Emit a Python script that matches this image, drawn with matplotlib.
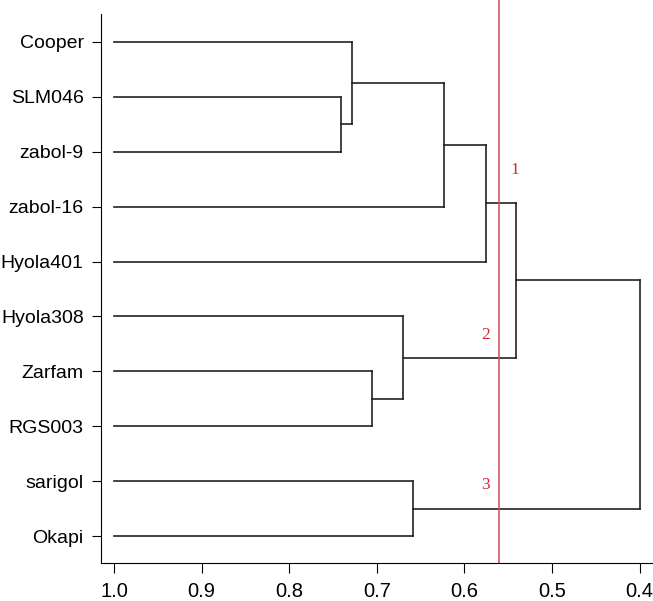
import matplotlib.pyplot as plt

# Leaf labels, top to bottom
leaves = ['Cooper', 'SLM046', 'zabol-9', 'zabol-16', 'Hyola401',
          'Hyola308', 'Zarfam', 'RGS003', 'sarigol', 'Okapi']
# Merges: (child a, child b, similarity); leaves are 0..9, merged nodes 10+
merges = [
    (1, 2, 0.741),
    (0, 10, 0.728),
    (11, 3, 0.623),
    (12, 4, 0.575),
    (6, 7, 0.705),
    (5, 14, 0.670),
    (13, 15, 0.541),
    (8, 9, 0.659),
    (16, 17, 0.400),
]
leaf_height = 1.0
cut = 0.56
group_labels = ['1', '2', '3']
group_x = [0.542, 0.576, 0.576]
group_y = [2.33, 5.34, 8.07]
xticks = [1.0, 0.9, 0.8, 0.7, 0.6, 0.5, 0.4]

fig = plt.figure(figsize=(6.53, 6.01), dpi=100)
ax = fig.add_axes([101 / 653, 38 / 601, 552 / 653, 563 / 601])

ypos = {i: float(i) for i in range(len(leaves))}
hgt = {i: leaf_height for i in range(len(leaves))}
lc = '#222222'
lw = 1.2
for k, (a, b, h) in enumerate(merges):
    node = len(leaves) + k
    for c in (a, b):
        ax.plot([hgt[c], h], [ypos[c], ypos[c]], color=lc, lw=lw)
    ax.plot([h, h], [ypos[a], ypos[b]], color=lc, lw=lw)
    ypos[node] = (ypos[a] + ypos[b]) / 2
    hgt[node] = h

ax.axvline(cut, color='#d04a5a', lw=1.1)
for t, gx, gy in zip(group_labels, group_x, group_y):
    ax.text(gx, gy, t, color='#d02a3a', fontsize=12.5, family='Liberation Serif',
            ha='center', va='center')

ax.set_xlim(1.0148, 0.3847)
ax.set_ylim(9.49, -0.765)
ax.spines['top'].set_visible(False)
ax.spines['right'].set_visible(False)
ax.spines['left'].set_bounds(-0.51, 9.49)
ax.set_yticks(range(len(leaves)))
ax.set_yticklabels(leaves)
ax.set_xticks(xticks)
ax.set_xticklabels(['%.1f' % v for v in xticks])
ax.tick_params(axis='y', length=6.5, pad=6, labelsize=14)
ax.tick_params(axis='x', length=7.5, pad=6, labelsize=14.5)
for lab in ax.get_xticklabels() + ax.get_yticklabels():
    lab.set_family('Liberation Sans')

fig.savefig('out.png', dpi=100)
